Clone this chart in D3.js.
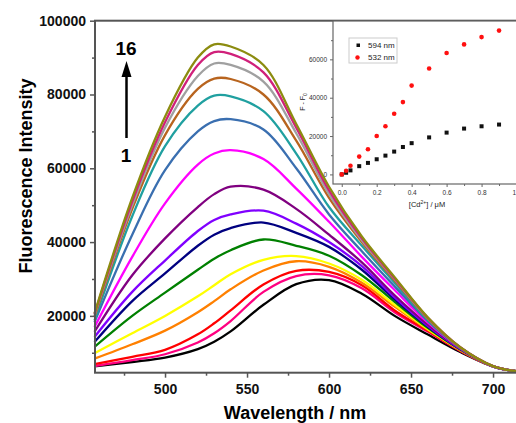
<!DOCTYPE html>
<html>
<head>
<meta charset="utf-8">
<script src="https://cdn.jsdelivr.net/npm/d3@7"></script>
<style>
  body { margin: 0; background: #fff; }
  svg { display: block; font-family: Arial, "Liberation Sans", sans-serif; }
</style>
</head>
<body>
<svg width="516" height="423"></svg>
<script>
// wavelengths (nm) where the spectra were read
const wavelengths = [457, 480, 500, 520, 530, 540, 560, 580, 600, 620, 640, 660, 680, 700, 714];

// 16 titration spectra, 1 (no Cd2+) -> 16
const spectra = [
    [6300, 7500, 8700, 11000, 13000, 15800, 23000, 28600, 29700, 26000, 20000, 15000, 10200, 6300, 5000],
    [6400, 8000, 9600, 12800, 15300, 18600, 26500, 30800, 31000, 27500, 21000, 15800, 10500, 6300, 5000],
    [6900, 8900, 10800, 15000, 18000, 21500, 28500, 32200, 31900, 28300, 21500, 16000, 10600, 6300, 5000],
    [8400, 12300, 16000, 21000, 24000, 27200, 32300, 34800, 33300, 29000, 22500, 16300, 10700, 6300, 5000],
    [9900, 15300, 20000, 25300, 28300, 31300, 35200, 36200, 34200, 29800, 23000, 16500, 10800, 6300, 5000],
    [11600, 20000, 26300, 32500, 35500, 37800, 40700, 39000, 36300, 31000, 23800, 16800, 10900, 6300, 5000],
    [12900, 24000, 31500, 39000, 42000, 43800, 45300, 42500, 38700, 32500, 24500, 17200, 11000, 6300, 5000],
    [14300, 26500, 35000, 43000, 46000, 47500, 48500, 45000, 40000, 33500, 25000, 17400, 11100, 6300, 5000],
    [15700, 31000, 41000, 49500, 53000, 55000, 54200, 49000, 42000, 34500, 25600, 17700, 11200, 6300, 5000],
    [17000, 36000, 50500, 61000, 64000, 64900, 62500, 54500, 45500, 36000, 27000, 18300, 11300, 6300, 5000],
    [18300, 42000, 59500, 70000, 72800, 73300, 70500, 60000, 47500, 37500, 28000, 18700, 11350, 6300, 5000],
    [18800, 47000, 66000, 77000, 79700, 79500, 75500, 64000, 49500, 39000, 29000, 19000, 11400, 6350, 5000],
    [19800, 49000, 69000, 81500, 84300, 84200, 80000, 67500, 52000, 40000, 29600, 19300, 11400, 6350, 5000],
    [20300, 50000, 71000, 85000, 88400, 88000, 83500, 69500, 53000, 40500, 30000, 19500, 11450, 6400, 5000],
    [20500, 51000, 72500, 88000, 91500, 91000, 86000, 71000, 54000, 41000, 30200, 19600, 11500, 6400, 5000],
    [20700, 52000, 74000, 90000, 93600, 93000, 88000, 72000, 55000, 41500, 30500, 19700, 11500, 6400, 5000]
];

const spectraColors = ["#000000", "#ff0080", "#ff0000", "#ff8000", "#ffff00", "#008000", "#000080", "#8000ff",
    "#800080", "#ff00ff", "#3a6fb0", "#20a0a0", "#b8641e", "#a0a0a0", "#d0207a", "#8c8c10"];

const xTicks = [500, 550, 600, 650, 700];
const yTicks = [20000, 40000, 60000, 80000, 100000];

// inset: F - F0 vs [Cd2+]
const cdConc = [0, 0.025, 0.05, 0.1, 0.15, 0.2, 0.25, 0.3, 0.35, 0.4, 0.5, 0.6, 0.7, 0.8, 0.9];
const dF594 = [0, 860, 2100, 4300, 6000, 7900, 9800, 11900, 14300, 16300, 19300, 21800, 23900, 25100, 26000];
const dF532 = [0, 1900, 4500, 9300, 13100, 20000, 25100, 31600, 37700, 46300, 55200, 63300, 67800, 71600, 75000];
const insetXTicks = [0, 0.2, 0.4, 0.6, 0.8, 1.0];
const insetYTicks = [0, 20000, 40000, 60000];

const svg = d3.select("svg");
const axisColor = "#555";

// main plot
const x = d3.scaleLinear().domain([457.3, 714]).range([95, 516]);
const y = d3.scaleLinear().domain([4600, 100000]).range([372.7, 20.7]);

const line = d3.line()
    .x((d, i) => x(wavelengths[i]))
    .y(d => y(d))
    .curve(d3.curveCatmullRom.alpha(0.5));

svg.append("g")
    .selectAll("path")
    .data(spectra)
    .enter()
    .append("path")
    .attr("d", d => line(d))
    .attr("fill", "none")
    .attr("stroke", (d, i) => spectraColors[i])
    .attr("stroke-width", 2.3);

// frame
svg.append("rect")
    .attr("x", 95).attr("y", 20.7)
    .attr("width", 440).attr("height", 352)
    .attr("fill", "none")
    .attr("stroke", axisColor)
    .attr("stroke-width", 2);

const xAxis = svg.append("g")
    .attr("transform", "translate(0,372.7)")
    .call(d3.axisBottom(x).tickValues(xTicks).tickSize(5).tickPadding(6).tickFormat(d3.format("d")));
const xMinor = svg.append("g")
    .attr("transform", "translate(0,372.7)")
    .call(d3.axisBottom(x).tickValues([475, 525, 575, 625, 675]).tickSize(3).tickFormat(""));

const yAxis = svg.append("g")
    .attr("transform", "translate(95,0)")
    .call(d3.axisLeft(y).tickValues(yTicks).tickSize(5).tickPadding(4).tickFormat(d3.format("d")));
const yMinor = svg.append("g")
    .attr("transform", "translate(95,0)")
    .call(d3.axisLeft(y).tickValues([10000, 30000, 50000, 70000, 90000]).tickSize(3).tickFormat(""));

[xAxis, xMinor, yAxis, yMinor].forEach(g => {
    g.select(".domain").remove();
    g.selectAll("line").attr("stroke", axisColor).attr("stroke-width", 1.5);
    g.selectAll("text")
        .attr("fill", "#111")
        .style("font-size", "14px")
        .style("font-weight", "bold")
        .style("font-family", "Arial, 'Liberation Sans', sans-serif");
});

// axis titles
svg.append("text")
    .attr("x", 295).attr("y", 419)
    .attr("text-anchor", "middle")
    .style("font-size", "18px").style("font-weight", "bold")
    .text("Wavelength / nm");

svg.append("text")
    .attr("transform", "translate(32,176) rotate(-90)")
    .attr("text-anchor", "middle")
    .style("font-size", "18px").style("font-weight", "bold")
    .text("Fluorescence Intensity");

// 1 -> 16 arrow
svg.append("line")
    .attr("x1", 126.5).attr("y1", 138)
    .attr("x2", 126.5).attr("y2", 72)
    .attr("stroke", "#000")
    .attr("stroke-width", 2.5);
svg.append("path")
    .attr("d", "M126.5,61 L131.5,77 L121.5,77 Z")
    .attr("fill", "#000");

svg.append("text")
    .attr("x", 126).attr("y", 55)
    .attr("text-anchor", "middle")
    .style("font-size", "19px").style("font-weight", "bold")
    .text("16");

svg.append("text")
    .attr("x", 126).attr("y", 162)
    .attr("text-anchor", "middle")
    .style("font-size", "19px").style("font-weight", "bold")
    .text("1");

// inset
const ix = d3.scaleLinear().domain([-0.05, 1.1]).range([333, 534]);
const iy = d3.scaleLinear().domain([-5000, 80000]).range([184, 21]);

svg.append("rect")
    .attr("x", 333).attr("y", 21)
    .attr("width", 200).attr("height", 163)
    .attr("fill", "#fff")
    .attr("stroke", "#666")
    .attr("stroke-width", 1.2);

const ixAxis = svg.append("g")
    .attr("transform", "translate(0,184)")
    .call(d3.axisBottom(ix).tickValues(insetXTicks).tickSize(3).tickPadding(3).tickFormat(d3.format(".1f")));
const ixMinor = svg.append("g")
    .attr("transform", "translate(0,184)")
    .call(d3.axisBottom(ix).tickValues([0.1, 0.3, 0.5, 0.7, 0.9]).tickSize(2).tickFormat(""));
const iyAxis = svg.append("g")
    .attr("transform", "translate(333,0)")
    .call(d3.axisLeft(iy).tickValues(insetYTicks).tickSize(3).tickPadding(3).tickFormat(d3.format("d")));
const iyMinor = svg.append("g")
    .attr("transform", "translate(333,0)")
    .call(d3.axisLeft(iy).tickValues([10000, 30000, 50000, 70000]).tickSize(2).tickFormat(""));

[ixAxis, ixMinor, iyAxis, iyMinor].forEach(g => {
    g.select(".domain").remove();
    g.selectAll("line").attr("stroke", "#666");
    g.selectAll("text")
        .attr("fill", "#333")
        .style("font-size", "6.5px")
        .style("font-family", "Arial, 'Liberation Sans', sans-serif");
});

svg.append("g")
    .selectAll("rect")
    .data(dF594)
    .enter()
    .append("rect")
    .attr("x", (d, i) => ix(cdConc[i]) - 2)
    .attr("y", d => iy(d) - 2)
    .attr("width", 4).attr("height", 4)
    .attr("fill", "#111");

svg.append("g")
    .selectAll("circle")
    .data(dF532)
    .enter()
    .append("circle")
    .attr("cx", (d, i) => ix(cdConc[i]))
    .attr("cy", d => iy(d))
    .attr("r", 2.3)
    .attr("fill", "#ff1010");

// inset legend
svg.append("rect")
    .attr("x", 349).attr("y", 38)
    .attr("width", 48).attr("height", 25)
    .attr("fill", "#fff")
    .attr("stroke", "#ccc");
svg.append("rect")
    .attr("x", 356.5).attr("y", 43.5)
    .attr("width", 3.5).attr("height", 3.5)
    .attr("fill", "#111");
svg.append("circle")
    .attr("cx", 357.5).attr("cy", 57.5)
    .attr("r", 2.2)
    .attr("fill", "#ff1010");
svg.append("text")
    .attr("x", 368).attr("y", 48)
    .style("font-size", "8px").attr("fill", "#222")
    .text("594 nm");
svg.append("text")
    .attr("x", 368).attr("y", 60)
    .style("font-size", "8px").attr("fill", "#222")
    .text("532 nm");

// inset titles
const iyTitle = svg.append("text")
    .attr("transform", "translate(305,102) rotate(-90)")
    .attr("text-anchor", "middle")
    .style("font-size", "7px").attr("fill", "#222");
iyTitle.append("tspan").text("F - F");
iyTitle.append("tspan").attr("dy", 2).style("font-size", "5px").text("0");

const ixTitle = svg.append("text")
    .attr("x", 427).attr("y", 207)
    .attr("text-anchor", "middle")
    .style("font-size", "7.5px").attr("fill", "#222");
ixTitle.append("tspan").text("[Cd");
ixTitle.append("tspan").attr("dy", -3).style("font-size", "5px").text("2+");
ixTitle.append("tspan").attr("dy", 3).text("] / μM");
</script>
</body>
</html>
